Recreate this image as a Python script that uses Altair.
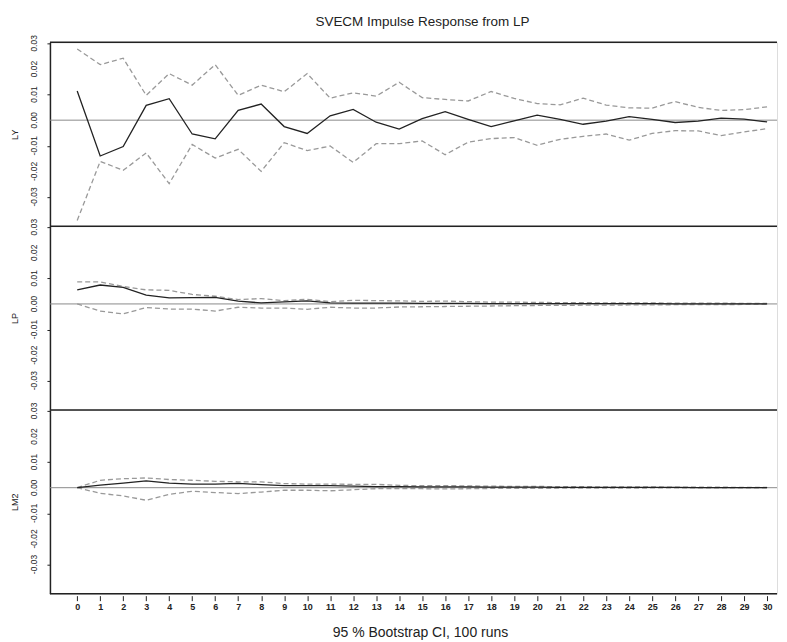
import altair as alt
import pandas as pd

steps = list(range(31))

ly_irf = [0.0114, -0.0140, -0.0103, 0.0058, 0.0084, -0.0054, -0.0073, 0.0038, 0.0063, -0.0025,
          -0.0052, 0.0017, 0.0042, -0.0008, -0.0035, 0.0006, 0.0033, 0.0003, -0.0025, -0.0003,
          0.0020, 0.0003, -0.0016, -0.0004, 0.0014, 0.0003, -0.0009, -0.0004, 0.0008, 0.0004, -0.0007]
ly_hi = [0.0278, 0.0217, 0.0242, 0.0097, 0.0182, 0.0137, 0.0217, 0.0097, 0.0137, 0.0111,
         0.0182, 0.0086, 0.0107, 0.0094, 0.0148, 0.0088, 0.0081, 0.0075, 0.0112, 0.0085,
         0.0065, 0.0060, 0.0086, 0.0059, 0.0048, 0.0047, 0.0073, 0.0050, 0.0038, 0.0041, 0.0052]
ly_lo = [-0.0392, -0.0161, -0.0196, -0.0128, -0.0248, -0.0095, -0.0148, -0.0114, -0.0200, -0.0088,
         -0.0119, -0.0101, -0.0165, -0.0092, -0.0092, -0.0081, -0.0135, -0.0086, -0.0072, -0.0068,
         -0.0098, -0.0075, -0.0063, -0.0054, -0.0078, -0.0052, -0.0041, -0.0042, -0.0060, -0.0046, -0.0033]

lp_irf = [0.0055, 0.0074, 0.0065, 0.0034, 0.0024, 0.0025, 0.0026, 0.0011, 0.0004, 0.0008,
          0.0012, 0.0004, 0.0003, 0.0003, 0.0003, 0.0002, 0.0002, 0.0002, 0.0001, 0.0001,
          0.0001, 0.0001, 0.0001, 0.0001, 0.0001, 0.0001, 0.0000, 0.0000, 0.0000, 0.0000, 0.0000]
lp_hi = [0.0086, 0.0086, 0.0068, 0.0055, 0.0053, 0.0037, 0.0030, 0.0017, 0.0021, 0.0013,
         0.0018, 0.0009, 0.0014, 0.0013, 0.0012, 0.0010, 0.0011, 0.0009, 0.0007, 0.0007,
         0.0006, 0.0005, 0.0005, 0.0004, 0.0004, 0.0004, 0.0003, 0.0003, 0.0003, 0.0002, 0.0002]
lp_lo = [0.0000, -0.0028, -0.0039, -0.0014, -0.0020, -0.0020, -0.0028, -0.0013, -0.0016, -0.0016,
         -0.0021, -0.0013, -0.0016, -0.0016, -0.0012, -0.0011, -0.0010, -0.0009, -0.0008, -0.0007,
         -0.0006, -0.0006, -0.0005, -0.0005, -0.0004, -0.0004, -0.0003, -0.0003, -0.0003, -0.0002, -0.0002]

lm2_irf = [0.0000, 0.0010, 0.0018, 0.0027, 0.0018, 0.0014, 0.0014, 0.0017, 0.0012, 0.0008,
           0.0008, 0.0008, 0.0006, 0.0004, 0.0004, 0.0003, 0.0003, 0.0003, 0.0002, 0.0002,
           0.0002, 0.0001, 0.0001, 0.0001, 0.0001, 0.0001, 0.0001, 0.0000, 0.0000, 0.0000, 0.0000]
lm2_hi = [0.0000, 0.0029, 0.0035, 0.0038, 0.0032, 0.0029, 0.0025, 0.0023, 0.0023, 0.0016,
          0.0014, 0.0014, 0.0013, 0.0013, 0.0009, 0.0008, 0.0008, 0.0007, 0.0006, 0.0005,
          0.0005, 0.0004, 0.0004, 0.0003, 0.0003, 0.0003, 0.0002, 0.0002, 0.0002, 0.0001, 0.0001]
lm2_lo = [0.0000, -0.0022, -0.0032, -0.0049, -0.0026, -0.0014, -0.0019, -0.0023, -0.0017, -0.0010,
          -0.0010, -0.0012, -0.0008, -0.0004, -0.0004, -0.0004, -0.0005, -0.0004, -0.0003, -0.0003,
          -0.0003, -0.0002, -0.0002, -0.0002, -0.0002, -0.0001, -0.0001, -0.0001, -0.0001, -0.0001, -0.0001]

panels = [("LY", ly_irf, ly_lo, ly_hi), ("LP", lp_irf, lp_lo, lp_hi), ("LM2", lm2_irf, lm2_lo, lm2_hi)]
y_ticks = [-0.03, -0.02, -0.01, 0.0, 0.01, 0.02, 0.03]
y_tick_labels = ["-0.03", "-0.02", "-0.01", "0.00", "0.01", "0.02", "0.03"]

W = 728
H = 184
FONT = "Liberation Sans"
xscale = alt.Scale(domain=[-1.185, 30.43], nice=False, zero=False)
yscale = alt.Scale(domain=[-0.0414, 0.0304], nice=False, zero=False)
tick_df = pd.DataFrame({"v": y_ticks, "lab": y_tick_labels})


def panel(name, irf, lo, hi, bottom=False, top=False):
    df = pd.DataFrame({"step": steps, "irf": irf, "lo": lo, "hi": hi, "zero": [0.0] * len(steps)})
    base = alt.Chart(df)
    if bottom:
        xax = alt.Axis(values=steps, labelFont=FONT, labelFontSize=9, labelColor="#222",
                       tickColor="#222", tickSize=5, offset=2, domain=False, grid=False,
                       labelPadding=2, title=None, labelFontWeight="bold")
    else:
        xax = None
    yax = alt.Axis(values=y_ticks, labels=False,
                   tickColor="#222", tickSize=3, domainColor="#222",
                   domainWidth=1.5, grid=False, title=name, titleFont=FONT, titleFontSize=9,
                   titleFontWeight="normal", titleColor="#222", titlePadding=27)
    x_enc = alt.X("step:Q", scale=xscale, axis=xax)
    hi_l = base.mark_line(color="#999", strokeWidth=1.3, strokeDash=[5, 3]).encode(
        x=x_enc, y=alt.Y("hi:Q", scale=yscale, axis=yax))
    zero = base.transform_filter("datum.step == 0").mark_rule(color="#8a8a8a", strokeWidth=1).encode(y="zero:Q")
    lo_l = base.mark_line(color="#999", strokeWidth=1.3, strokeDash=[5, 3]).encode(x=x_enc, y="lo:Q")
    irf_l = base.mark_line(color="#222", strokeWidth=1.3).encode(x=x_enc, y="irf:Q")
    top_rule = base.transform_filter("datum.step == 0").mark_rule(color="#222", strokeWidth=1.5).encode(y=alt.value(0))
    ylabels = alt.Chart(tick_df).mark_text(font=FONT, fontSize=8.5, color="#222", angle=270,
                                           align="center", baseline="middle").encode(
        y="v:Q", x=alt.value(-16), text="lab:N")
    layers = [hi_l, zero, lo_l, irf_l, top_rule, ylabels]
    if bottom:
        bot_rule = base.transform_filter("datum.step == 0").mark_rule(color="#222", strokeWidth=1.5).encode(y=alt.value(H))
        note = base.transform_filter("datum.step == 0").mark_text(
            text="95 % Bootstrap CI,  100 runs", font=FONT, fontSize=14, color="#222",
            align="center", baseline="middle").encode(x=alt.value(371), y=alt.value(H + 39))
        layers += [bot_rule, note]
    if top:
        ttl = base.transform_filter("datum.step == 0").mark_text(
            text="SVECM Impulse Response from LP", font=FONT, fontSize=13.5, color="#222",
            align="center", baseline="middle").encode(x=alt.value(373), y=alt.value(-20))
        layers += [ttl]
    return alt.layer(*layers).properties(width=W, height=H)


charts = [panel(n, i, l, h, bottom=(k == 2), top=(k == 0)) for k, (n, i, l, h) in enumerate(panels)]

chart = alt.vconcat(*charts, spacing=0, bounds="flush").resolve_scale(
    x="independent", y="independent").properties(
    padding={"left": 2, "top": 6, "right": 0, "bottom": 0}
).configure_view(stroke=None).configure(background="white")

chart.save("out.html", embed_options={"renderer": "svg", "actions": False})
